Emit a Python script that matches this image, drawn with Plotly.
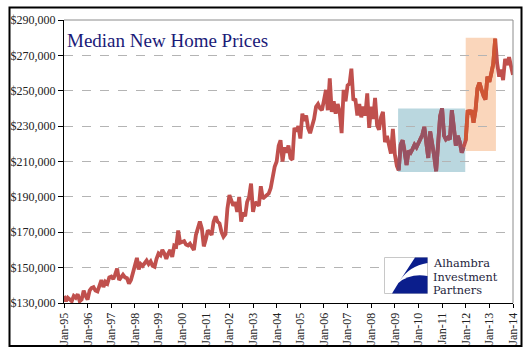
import plotly.graph_objects as go
import pandas as pd

# Median new home prices, monthly, in thousands of dollars
p1995 = [134, 131, 133, 132, 131, 134, 133, 135, 131, 132, 137, 134]
p1996 = [132, 137, 138.5, 139, 137, 136.5, 140, 143, 139, 142, 141, 144.5]
p1997 = [145, 143.5, 146, 149.5, 143, 145, 146, 144.5, 144, 141, 143, 147]
p1998 = [151, 155.5, 149, 152, 151, 153, 154, 152, 153.5, 151, 150.5, 155]
p1999 = [158, 157, 160, 158, 155, 158, 160, 156, 162.5, 162, 171, 164]
p2000 = [164.5, 165, 163, 162.5, 163.5, 162, 160, 168.5, 172, 176, 172, 162]
p2001 = [166, 171, 170, 168.5, 176, 179, 176, 175, 170, 167.5, 169, 183.5]
p2002 = [191, 188, 185, 187, 181.5, 190, 176, 181, 179, 187, 190, 197.5]
p2003 = [181.5, 187, 186, 185, 196, 189, 190, 191, 192, 195, 201.5, 207]
p2004 = [210, 219, 222, 210, 218, 215, 219, 212, 211, 229, 227, 230]
p2005 = [223, 237, 233, 236, 229, 226, 230, 234, 241, 242.5, 240, 239]
p2006 = [244.5, 250.5, 239, 257, 238, 244, 237, 242.5, 238, 226, 250.5, 244]
p2007 = [253, 254, 262.5, 244.5, 245.5, 236, 242.5, 235, 241, 236, 248.5, 229]
p2008 = [241, 234, 246, 230.5, 228, 235, 238, 221, 224.5, 219, 214.5, 228.5]
p2009 = [214, 207.5, 205, 219.5, 222, 216, 208, 216, 215, 217, 219.5, 218]
p2010 = [220.5, 223, 225, 229.5, 219, 212, 227, 220.5, 213, 204.5, 222.5, 235.5]
p2011 = [240, 224.5, 222.5, 223.5, 222.5, 239, 229.5, 219, 224.5, 221, 215, 218]
p2012 = [222, 239, 237, 239, 232, 239, 251.5, 254.5, 250.5, 247, 245, 258]
p2013 = [255, 260, 265, 279.5, 265.5, 258, 262, 256, 268, 264.5, 269, 264]
p2014 = [259]

all_k = (p1995 + p1996 + p1997 + p1998 + p1999 + p2000 + p2001 + p2002 + p2003
         + p2004 + p2005 + p2006 + p2007 + p2008 + p2009 + p2010 + p2011
         + p2012 + p2013 + p2014)
prices = [v * 1000 for v in all_k]
dates = pd.date_range("1995-01-01", periods=len(prices), freq="MS")

# Highlighted periods
blue_period = ("2009-02-20", "2011-12-25")
blue_range = (204000, 240000)
orange_period = ("2012-01-01", "2013-04-12")
orange_range = (216000, 280000)

tick_years = list(range(1995, 2015))
tick_vals = [f"{y}-01-01" for y in tick_years]
tick_text = [f"Jan-{str(y)[2:]}" for y in tick_years]
y_ticks = list(range(130000, 290001, 20000))

df = pd.DataFrame({"date": dates, "price": prices})
blue_seg = df[(df.date >= "2009-03-01") & (df.date <= "2011-12-01")]
orange_seg = df[(df.date >= "2012-01-01") & (df.date <= "2013-04-01")]

fig = go.Figure()
fig.add_trace(go.Scatter(x=df.date, y=df.price, mode="lines",
                         line=dict(color="#C0504D", width=3.8), hoverinfo="skip"))
fig.add_trace(go.Scatter(x=blue_seg.date, y=blue_seg.price, mode="lines",
                         line=dict(color="#985262", width=3.8), hoverinfo="skip"))
fig.add_trace(go.Scatter(x=orange_seg.date, y=orange_seg.price, mode="lines",
                         line=dict(color="#CF5634", width=3.8), hoverinfo="skip"))

L, R, T, B = 64, 513, 20, 303
def px(X):
    return (X - L) / (R - L)
def py(Y):
    return (B - Y) / (B - T)

shapes = [
    dict(type="rect", xref="x", yref="y", x0=blue_period[0], x1=blue_period[1],
         y0=blue_range[0], y1=blue_range[1], fillcolor="#BAD7DF",
         line=dict(width=0), layer="below"),
    dict(type="rect", xref="x", yref="y", x0=orange_period[0], x1=orange_period[1],
         y0=orange_range[0], y1=orange_range[1], fillcolor="#FAD6BB",
         line=dict(width=0), layer="below"),
    # top / right gray frame
    dict(type="line", xref="paper", yref="paper", x0=0, x1=1, y0=1, y1=1,
         line=dict(color="#8C8C8C", width=1)),
    dict(type="line", xref="paper", yref="paper", x0=1, x1=1, y0=0, y1=1,
         line=dict(color="#8C8C8C", width=1)),
    # outer border
    dict(type="rect", xref="paper", yref="paper", x0=px(9.5), x1=px(521.5),
         y0=py(346), y1=py(7.5), line=dict(color="black", width=2),
         fillcolor="rgba(0,0,0,0)"),
    # logo background
    dict(type="rect", xref="paper", yref="paper", x0=px(382), x1=px(506),
         y0=py(297), y1=py(255), fillcolor="white", line=dict(width=0),
         layer="above"),
    dict(type="rect", xref="paper", yref="paper", x0=px(384.5), x1=px(427.5),
         y0=py(293.5), y1=py(257.5), fillcolor="white",
         line=dict(color="#C8C8C8", width=1), layer="above"),
]

upper = (f"M {px(415)},{py(257.5)} L {px(427.5)},{py(257.5)} L {px(427.5)},{py(263)} "
         f"Q {px(409)},{py(266)} {px(399.7)},{py(281)} Z")
lower = (f"M {px(398.4)},{py(283)} Q {px(410)},{py(273)} {px(427.5)},{py(276)} "
         f"L {px(427.5)},{py(293.5)} L {px(392)},{py(293.5)} Z")
for p in (upper, lower):
    shapes.append(dict(type="path", xref="paper", yref="paper", path=p,
                       fillcolor="#0B1E8C", line=dict(width=0), layer="above"))

annotations = [
    dict(text="Median New Home Prices", xref="paper", yref="paper",
         x=px(65), y=py(41), xanchor="left", yanchor="middle", showarrow=False,
         font=dict(family="Liberation Serif", size=19, color="#1A1A78")),
]
for txt, yy in (("Alhambra", 263.5), ("Investment", 277), ("Partners", 290.5)):
    annotations.append(dict(text=txt, xref="paper", yref="paper", x=px(431), y=py(yy),
                            xanchor="left", yanchor="middle", showarrow=False,
                            font=dict(family="DejaVu Serif", size=11.3, color="#1E1E3C")))

fig.update_layout(
    width=532, height=361,
    margin=dict(l=L, r=532 - R, t=T, b=361 - B),
    paper_bgcolor="white", plot_bgcolor="white",
    showlegend=False,
    shapes=shapes, annotations=annotations,
    font=dict(family="Liberation Serif", size=12, color="#222222"),
    xaxis=dict(type="date", range=["1995-01-01", "2014-01-01"],
               tickvals=tick_vals, ticktext=tick_text, tickangle=-90,
               showgrid=False, zeroline=False, showline=True, linecolor="black",
               linewidth=1, ticks="outside", ticklen=4, tickcolor="black",
               tickfont=dict(family="Liberation Serif", size=12, color="#222222")),
    yaxis=dict(range=[130000, 290000], tickvals=y_ticks, tickformat="$,.0f",
               showgrid=True, gridcolor="#B4B4B4", griddash="dash", gridwidth=1,
               zeroline=False, showline=True, linecolor="black", linewidth=1,
               ticks="outside", ticklen=5, tickcolor="black",
               tickfont=dict(family="Liberation Serif", size=12, color="#222222")),
)

fig.write_html("out.html", config={"displayModeBar": False},
               post_script="document.body.style.margin='0';document.body.style.overflow='hidden';")
